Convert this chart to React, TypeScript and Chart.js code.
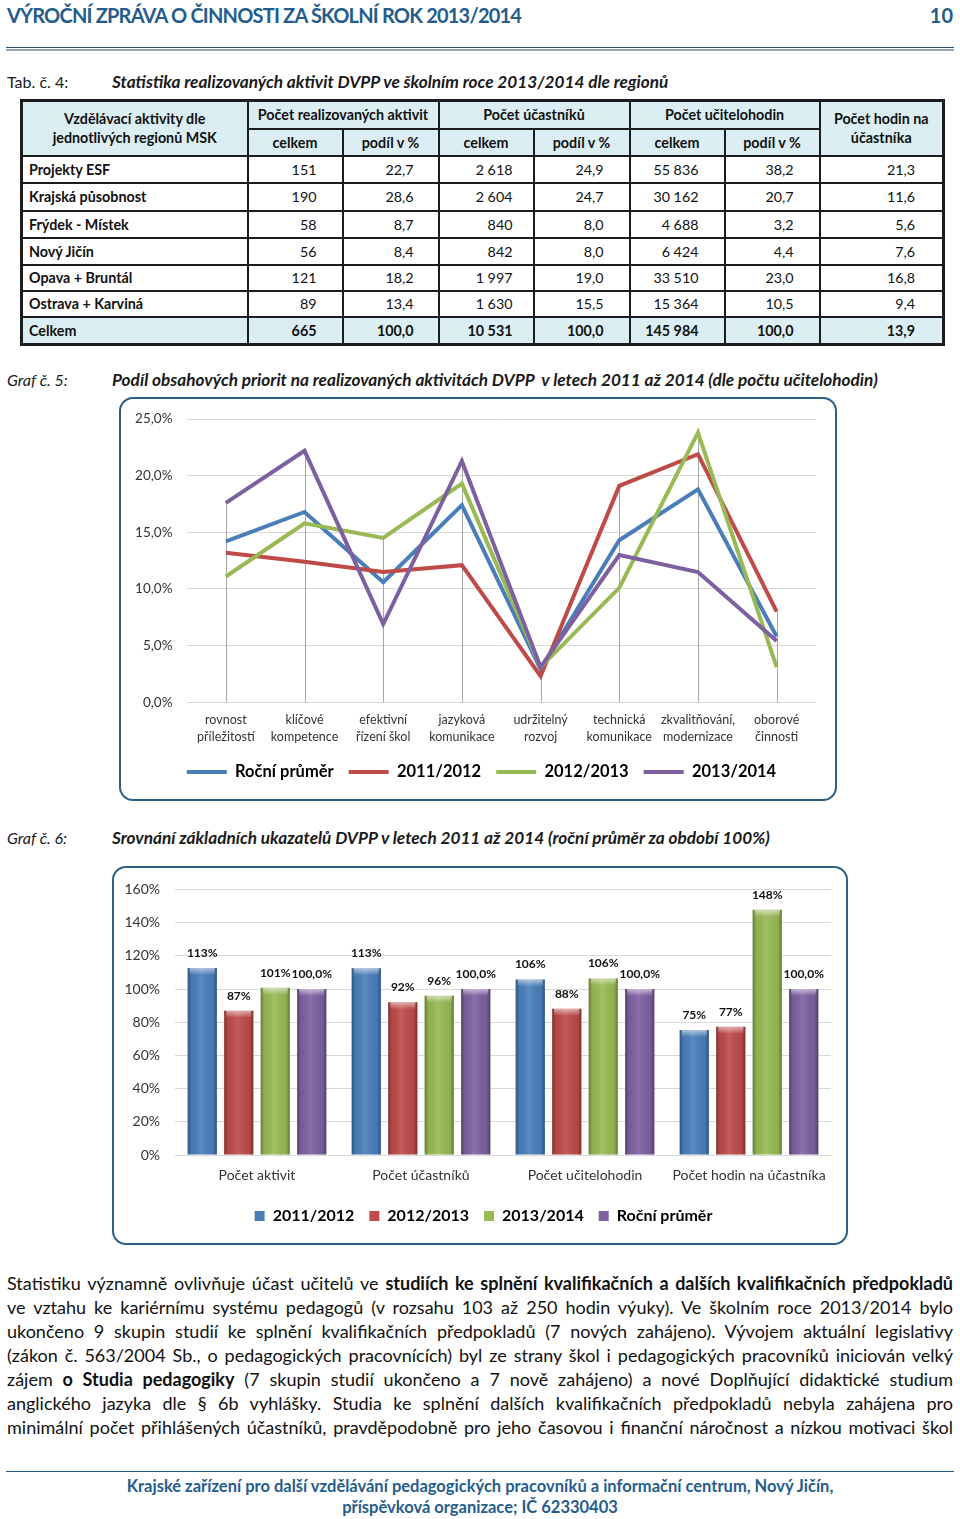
import React, { useEffect, useRef } from "react";
import { Chart, registerables } from "chart.js";

Chart.register(...registerables);

const FONT = "Lato, 'Noto Sans', sans-serif";
Chart.defaults.font.family = FONT;

const TITLE_BLUE = "#245D8C";
const BOX_BORDER = "#2C5F86";

// ---------- Tab. č. 4 ----------
const groupHeaders = ["Počet realizovaných aktivit", "Počet účastníků", "Počet učitelohodin"];
const regionNames = ["Projekty ESF", "Krajská působnost", "Frýdek - Místek", "Nový Jičín", "Opava + Bruntál", "Ostrava + Karviná"];
const activitiesCount = ["151", "190", "58", "56", "121", "89"];
const activitiesShare = ["22,7", "28,6", "8,7", "8,4", "18,2", "13,4"];
const participantsCount = ["2 618", "2 604", "840", "842", "1 997", "1 630"];
const participantsShare = ["24,9", "24,7", "8,0", "8,0", "19,0", "15,5"];
const teacherHoursCount = ["55 836", "30 162", "4 688", "6 424", "33 510", "15 364"];
const teacherHoursShare = ["38,2", "20,7", "3,2", "4,4", "23,0", "10,5"];
const hoursPerParticipant = ["21,3", "11,6", "5,6", "7,6", "16,8", "9,4"];
const totalRow = ["Celkem", "665", "100,0", "10 531", "100,0", "145 984", "100,0", "13,9"];

// ---------- Graf č. 5 ----------
const priorityLabels = [
  ["rovnost", "příležitostí"],
  ["klíčové", "kompetence"],
  ["efektivní", "řízení škol"],
  ["jazyková", "komunikace"],
  ["udržitelný", "rozvoj"],
  ["technická", "komunikace"],
  ["zkvalitňování,", "modernizace"],
  ["oborové", "činnosti"],
];
const shareAverage = [14.2, 16.8, 10.6, 17.4, 2.9, 14.3, 18.8, 5.8];
const share2011 = [13.2, 12.4, 11.5, 12.1, 2.3, 19.1, 21.9, 8.0];
const share2012 = [11.1, 15.8, 14.5, 19.3, 3.1, 10.1, 23.8, 3.1];
const share2013 = [17.6, 22.2, 6.9, 21.3, 3.1, 13.0, 11.5, 5.4];
const lineSeriesNames = ["Roční průměr", "2011/2012", "2012/2013", "2013/2014"];

// ---------- Graf č. 6 ----------
const indicatorLabels = ["Počet aktivit", "Počet účastníků", "Počet učitelohodin", "Počet hodin na účastníka"];
const ratio2011 = [112.7, 112.5, 105.7, 75.3];
const ratio2012 = [86.9, 92.0, 88.1, 77.2];
const ratio2013 = [100.7, 96.0, 106.4, 147.7];
const ratioAverage = [100, 100, 100, 100];
const barSeriesNames = ["2011/2012", "2012/2013", "2013/2014", "Roční průměr"];

const C_BLUE = "#4A7EBB";
const C_RED = "#BE4B48";
const C_GREEN = "#98B954";
const C_PURPLE = "#7D60A0";

const paragraphLines: Array<Array<[string, boolean]>> = [
  [["Statistiku významně ovlivňuje účast učitelů ve ", false], ["studiích ke splnění kvalifikačních a dalších kvalifikačních předpokladů", true]],
  [["ve vztahu ke kariérnímu systému pedagogů (v rozsahu 103 až 250 hodin výuky). Ve školním roce 2013/2014 bylo", false]],
  [["ukončeno 9 skupin studií ke splnění kvalifikačních předpokladů (7 nových zahájeno). Vývojem aktuální legislativy", false]],
  [["(zákon č. 563/2004 Sb., o pedagogických pracovnících) byl ze strany škol i pedagogických pracovníků iniciován velký", false]],
  [["zájem ", false], ["o Studia pedagogiky", true], [" (7 skupin studií ukončeno a 7 nově zahájeno) a nové Doplňující didaktické studium", false]],
  [["anglického jazyka dle § 6b vyhlášky. Studia ke splnění dalších kvalifikačních předpokladů nebyla zahájena pro", false]],
  [["minimální počet přihlášených účastníků, pravděpodobně pro jeho časovou i finanční náročnost a nízkou motivaci škol", false]],
];

// ---------- plugins ----------
const dropLinesPlugin = {
  id: "dropLines",
  beforeDatasetsDraw(chart: any) {
    const { ctx } = chart;
    const x = chart.scales.x;
    const y = chart.scales.y;
    const n = chart.data.labels.length;
    ctx.save();
    ctx.strokeStyle = "#A6A6A6";
    ctx.lineWidth = 1;
    for (let i = 0; i < n; i++) {
      let max = -Infinity;
      chart.data.datasets.forEach((ds: any) => {
        max = Math.max(max, ds.data[i]);
      });
      const px = Math.round(x.getPixelForValue(i)) + 0.5;
      ctx.beginPath();
      ctx.moveTo(px, y.getPixelForValue(max));
      ctx.lineTo(px, y.getPixelForValue(0));
      ctx.stroke();
    }
    ctx.restore();
  },
};

// moves the legend row so its centre sits at a chosen y (and shifted by dx) within the canvas
const legendShiftPlugin = {
  id: "legendShift",
  afterLayout(chart: any, _args: any, opts: any) {
    const l = chart.legend;
    if (!l || opts == null || opts.center == null) return;
    const pad = l.options.labels.padding;
    const fs = l.options.labels.font.size;
    const h = l.height;
    l.top = opts.center - pad - fs / 2;
    l.bottom = l.top + h;
    const dx = opts.dx || 0;
    l.left += dx;
    l.right += dx;
  },
};

const bevelPlugin = {
  id: "bevel",
  afterDatasetsDraw(chart: any) {
    const ctx = chart.ctx;
    ctx.save();
    chart.data.datasets.forEach((_ds: any, di: number) => {
      const meta = chart.getDatasetMeta(di);
      meta.data.forEach((bar: any) => {
        const { x, y, base, width } = bar.getProps(["x", "y", "base", "width"], true);
        const left = x - width / 2;
        const g = ctx.createLinearGradient(left, 0, left + width, 0);
        g.addColorStop(0, "rgba(0,0,0,0.32)");
        g.addColorStop(0.14, "rgba(0,0,0,0.04)");
        g.addColorStop(0.45, "rgba(255,255,255,0.10)");
        g.addColorStop(0.86, "rgba(0,0,0,0.04)");
        g.addColorStop(1, "rgba(0,0,0,0.34)");
        ctx.fillStyle = g;
        ctx.fillRect(left, y, width, base - y);
        const tg = ctx.createLinearGradient(0, y, 0, y + 7);
        tg.addColorStop(0, "rgba(255,255,255,0.55)");
        tg.addColorStop(1, "rgba(255,255,255,0)");
        ctx.fillStyle = tg;
        ctx.fillRect(left + 2, y, width - 4, 7);
      });
    });
    ctx.restore();
  },
};

const barLabelsPlugin = {
  id: "barLabels",
  afterDatasetsDraw(chart: any) {
    const ctx = chart.ctx;
    ctx.save();
    ctx.font = `bold 12px ${FONT}`;
    ctx.fillStyle = "#111";
    ctx.textAlign = "center";
    ctx.textBaseline = "middle";
    chart.data.datasets.forEach((ds: any, di: number) => {
      const meta = chart.getDatasetMeta(di);
      meta.data.forEach((bar: any, i: number) => {
        const v = ds.data[i];
        const txt = ds.labelDecimals ? v.toFixed(1).replace(".", ",") + "%" : Math.round(v) + "%";
        ctx.fillText(txt, bar.x, bar.y - 15);
      });
    });
    ctx.restore();
  },
};

function PriorityChart() {
  const ref = useRef<HTMLCanvasElement>(null);
  useEffect(() => {
    const series = [shareAverage, share2011, share2012, share2013];
    const colors = [C_BLUE, C_RED, C_GREEN, C_PURPLE];
    const chart = new Chart(ref.current as HTMLCanvasElement, {
      type: "line",
      data: {
        labels: priorityLabels as any,
        datasets: series.map((d, i) => ({
          label: lineSeriesNames[i],
          data: d,
          borderColor: colors[i],
          backgroundColor: colors[i],
          borderWidth: 4,
          pointRadius: 0,
          tension: 0,
          order: 4 - i,
        })),
      },
      options: {
        animation: false,
        responsive: false,
        layout: { padding: { left: 0, right: 21, top: 20.5, bottom: 23.3 } },
        scales: {
          x: {
            offset: true,
            grid: { display: false, drawTicks: false },
            border: { display: false },
            ticks: { color: "#333", font: { size: 12.5, lineHeight: 1.36 }, padding: 9, maxRotation: 0, autoSkip: false },
            afterFit: (s: any) => { s.height = 50; },
          },
          y: {
            min: 0,
            max: 25,
            grid: { color: "#D9D9D9", drawTicks: false },
            border: { display: false },
            ticks: {
              stepSize: 5,
              color: "#333",
              font: { size: 13.5 },
              padding: 14,
              callback: (v: any) => Number(v).toFixed(1).replace(".", ",") + "%",
            },
            afterFit: (s: any) => { s.width = 67.5; },
          },
        },
        plugins: {
          tooltip: { enabled: false },
          legendShift: { center: 375, dx: 14 },
          legend: {
            position: "bottom",
            labels: {
              boxWidth: 40,
              boxHeight: 4,
              padding: 15,
              color: "#000",
              font: { size: 16.5, weight: "bold" },
              sort: (a: any, b: any) => a.datasetIndex - b.datasetIndex,
              generateLabels: (c: any) =>
                Chart.defaults.plugins.legend.labels.generateLabels(c).map((l: any) => ({
                  ...l,
                  fillStyle: l.strokeStyle,
                  lineWidth: 0,
                })),
            },
          },
        },
      } as any,
      plugins: [dropLinesPlugin, legendShiftPlugin],
    });
    return () => chart.destroy();
  }, []);
  return <canvas ref={ref} width={718} height={420} style={{ position: "absolute", left: 119, top: 397 }} />;
}

function IndicatorChart() {
  const ref = useRef<HTMLCanvasElement>(null);
  useEffect(() => {
    const series = [ratio2011, ratio2012, ratio2013, ratioAverage];
    const colors = [C_BLUE, C_RED, C_GREEN, C_PURPLE];
    const chart = new Chart(ref.current as HTMLCanvasElement, {
      type: "bar",
      data: {
        labels: indicatorLabels,
        datasets: series.map((d, i) => ({
          label: barSeriesNames[i],
          data: d,
          backgroundColor: colors[i],
          borderWidth: 0,
          categoryPercentage: 0.89,
          barPercentage: 0.8,
          labelDecimals: i === 3,
        })) as any,
      },
      options: {
        animation: false,
        responsive: false,
        layout: { padding: { left: 0, right: 17, top: 22, bottom: 17 } },
        scales: {
          x: {
            grid: { display: false, drawTicks: false },
            border: { display: false },
            ticks: { color: "#333", font: { size: 14 }, padding: 11.6, maxRotation: 0, autoSkip: false },
            afterFit: (s: any) => { s.height = 32; },
          },
          y: {
            min: 0,
            max: 160,
            grid: { color: "#D9D9D9", drawTicks: false },
            border: { display: false },
            ticks: { stepSize: 20, color: "#333", font: { size: 14 }, padding: 15, callback: (v: any) => v + "%" },
            afterFit: (s: any) => { s.width = 63; },
          },
        },
        plugins: {
          tooltip: { enabled: false },
          legendShift: { center: 350, dx: 12 },
          legend: {
            position: "bottom",
            labels: { boxWidth: 10, boxHeight: 10, padding: 15, color: "#000", font: { size: 16, weight: "bold" } },
          },
        },
      } as any,
      plugins: [bevelPlugin, barLabelsPlugin, legendShiftPlugin],
    });
    return () => chart.destroy();
  }, []);
  return <canvas ref={ref} width={736} height={379} style={{ position: "absolute", left: 112, top: 866 }} />;
}

type TxtProps = { x: number; y: number; size: number; bold?: boolean; italic?: boolean; color?: string; align?: "left" | "right" | "center"; spacing?: number; children: any };
function Txt({ x, y, size, bold, italic, color, align = "left", spacing = 0, children }: TxtProps) {
  const style: any = {
    position: "absolute",
    top: y - size * 0.6,
    fontSize: size,
    lineHeight: `${size * 1.2}px`,
    fontWeight: bold ? 700 : 400,
    fontStyle: italic ? "italic" : "normal",
    color: color || "#1a1a1a",
    whiteSpace: "nowrap",
    fontFamily: FONT,
    letterSpacing: spacing,
  };
  if (align === "left") style.left = x;
  else if (align === "right") style.right = 960 - x;
  else { style.left = x - 480; style.width = 960; style.textAlign = "center"; }
  return <div style={style}>{children}</div>;
}

const colWidths = [226, 95, 96, 95, 96, 95, 95, 124];
const numPadRight = [0, 25, 24, 20, 25, 25, 25, 27];
const rowHeights = [27, 28, 27, 27, 26, 26];
const HDR_BG = "#DBEEF3";
const CELL_BORDER = "2px solid #1c1c1c";

function RegionTable() {
  const cell: any = { border: CELL_BORDER, padding: 0, overflow: "hidden", whiteSpace: "nowrap" };
  const hdr: any = { ...cell, background: HDR_BG, fontWeight: 700, textAlign: "center", verticalAlign: "middle", lineHeight: "19px" };
  const columns = [activitiesCount, activitiesShare, participantsCount, participantsShare, teacherHoursCount, teacherHoursShare, hoursPerParticipant];
  return (
    <table
      style={{
        position: "absolute", left: 20, top: 99, width: 922, borderCollapse: "collapse", tableLayout: "fixed",
        fontFamily: FONT, fontSize: 14.3, color: "#111", border: "3px solid #1c1c1c",
      }}
    >
      <colgroup>
        {colWidths.map((w, i) => <col key={i} style={{ width: w }} />)}
      </colgroup>
      <tbody>
        <tr style={{ height: 28 }}>
          <td rowSpan={2} style={hdr}>Vzdělávací aktivity dle<br />jednotlivých regionů MSK</td>
          {groupHeaders.map((g) => <td key={g} colSpan={2} style={hdr}>{g}</td>)}
          <td rowSpan={2} style={{ ...hdr, verticalAlign: "top", paddingTop: 7 }}>Počet hodin na<br />účastníka</td>
        </tr>
        <tr style={{ height: 27 }}>
          {groupHeaders.flatMap((g) => [
            <td key={g + "a"} style={hdr}>celkem</td>,
            <td key={g + "b"} style={hdr}>podíl v %</td>,
          ])}
        </tr>
        {regionNames.map((name, r) => (
          <tr key={name} style={{ height: rowHeights[r] }}>
            <td style={{ ...cell, fontWeight: 700, paddingLeft: 6 }}>{name}</td>
            {columns.map((col, c) => (
              <td key={c} style={{ ...cell, textAlign: "right", paddingRight: numPadRight[c + 1] }}>{col[r]}</td>
            ))}
          </tr>
        ))}
        <tr style={{ height: 28 }}>
          {totalRow.map((v, c) => (
            <td
              key={c}
              style={c === 0
                ? { ...cell, background: HDR_BG, fontWeight: 700, paddingLeft: 6 }
                : { ...cell, background: HDR_BG, fontWeight: 700, textAlign: "right", paddingRight: numPadRight[c] }}
            >{v}</td>
          ))}
        </tr>
      </tbody>
    </table>
  );
}

export default function App() {
  return (
    <div style={{ position: "absolute", left: 0, top: 0, width: 960, height: 1519, background: "#fff", fontFamily: FONT, overflow: "hidden" }}>
      <Txt x={7} y={15} size={20} bold color={TITLE_BLUE} spacing={-0.8}>VÝROČNÍ ZPRÁVA O ČINNOSTI ZA ŠKOLNÍ ROK 2013/2014</Txt>
      <Txt x={953} y={15} size={20} bold color={TITLE_BLUE} align="right">10</Txt>
      <div style={{ position: "absolute", left: 6, top: 47, width: 948, height: 1, background: "#2B4F6F" }} />
      <div style={{ position: "absolute", left: 6, top: 49, width: 948, height: 2, background: "#8EA5BC" }} />

      <Txt x={7} y={82} size={16}>Tab. č. 4:</Txt>
      <Txt x={112} y={82} size={17.2} bold italic>Statistika realizovaných aktivit DVPP ve školním roce 2013/2014 dle regionů</Txt>
      <RegionTable />

      <Txt x={7} y={380} size={16} italic>Graf č. 5:</Txt>
      <Txt x={112} y={380} size={17.2} bold italic>Podíl obsahových priorit na realizovaných aktivitách DVPP&nbsp; v letech 2011 až 2014 (dle počtu učitelohodin)</Txt>
      <div style={{ position: "absolute", left: 119, top: 397, width: 718, height: 404, boxSizing: "border-box", border: `2px solid ${BOX_BORDER}`, borderRadius: 14 }} />
      <PriorityChart />

      <Txt x={7} y={838} size={16} italic>Graf č. 6:</Txt>
      <Txt x={112} y={838} size={17.2} bold italic>Srovnání základních ukazatelů DVPP v letech 2011 až 2014 (roční průměr za období 100%)</Txt>
      <div style={{ position: "absolute", left: 112, top: 866, width: 736, height: 379, boxSizing: "border-box", border: `2px solid ${BOX_BORDER}`, borderRadius: 14 }} />
      <IndicatorChart />

      {paragraphLines.map((line, i) => (
        <div
          key={i}
          style={{
            position: "absolute", left: 7, top: 1283 + i * 24 - 12, width: 946, height: 24, lineHeight: "24px",
            fontSize: 18, textAlign: "justify", textAlignLast: "justify" as any, color: "#111", fontFamily: FONT,
          }}
        >
          {line.map(([t, b], j) => <span key={j} style={{ fontWeight: b ? 700 : 400 }}>{t}</span>)}
        </div>
      ))}

      <div style={{ position: "absolute", left: 6, top: 1471, width: 948, height: 1, background: TITLE_BLUE }} />
      <Txt x={480} y={1487} size={16.5} bold color={TITLE_BLUE} align="center">Krajské zařízení pro další vzdělávání pedagogických pracovníků a informační centrum, Nový Jičín,</Txt>
      <Txt x={480} y={1508} size={16.5} bold color={TITLE_BLUE} align="center">příspěvková organizace; IČ 62330403</Txt>
    </div>
  );
}
